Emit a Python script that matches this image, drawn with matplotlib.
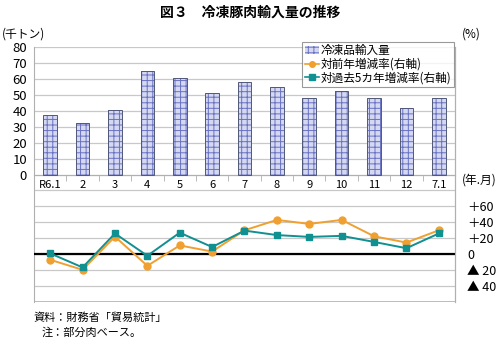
import matplotlib
matplotlib.use("Agg")
import matplotlib.pyplot as plt
import numpy as np
from matplotlib.patches import Patch
from matplotlib.lines import Line2D

plt.rcParams['font.family'] = ['Noto Sans CJK JP', 'DejaVu Sans']
plt.rcParams['hatch.linewidth'] = 0.7

months = ["R6.1", "2", "3", "4", "5", "6", "7", "8", "9", "10", "11", "12", "7.1"]
frozen_imports = [37.3, 32.0, 40.2, 64.9, 60.3, 51.3, 58.2, 54.9, 48.2, 52.4, 47.8, 41.9, 48.2]
yoy_change = [-7, -19.6, 22, -14.6, 11, 3.3, 30, 43, 38, 43, 22.5, 14.6, 30]
vs5yr_change = [1, -16.6, 26, -2, 27, 9, 29.6, 24, 21.7, 23, 15.4, 7.5, 26]

left_ticks = list(range(0, 81, 10))
right_ticks = [-40, -20, 0, 20, 40, 60]
right_labels = ["▲ 40", "▲ 20", "0", "＋20", "＋40", "＋60"]

bar_face = "#d4d8f0"
bar_hatch = "#6a72c4"
orange = "#f0a030"
teal = "#109090"
grid_c = "#c8c8c8"

fig = plt.figure(figsize=(5, 3.39), dpi=100)
ax = fig.add_axes([0.068, 0.1091, 0.842, 0.7523])
x = np.arange(len(months))

ax.set_xlim(-0.5, len(months) - 0.5)
ax.set_ylim(-80, 80)
ax.set_yticks(left_ticks)
ax.set_yticks(range(-70, 0, 10), minor=True)
ax.grid(axis='y', which='both', color=grid_c, lw=0.9, zorder=0)
ax.set_axisbelow(True)

ax.bar(x, frozen_imports, width=0.42, facecolor=bar_face, edgecolor=bar_hatch,
       hatch='+++', lw=0, zorder=2)
ax.bar(x, frozen_imports, width=0.42, facecolor='none', edgecolor='#505878',
       lw=0.7, zorder=3)

ax.spines['top'].set_visible(False)
ax.spines['bottom'].set_position(('data', 0))
for s in ['bottom', 'left', 'right']:
    ax.spines[s].set_color('#b0b0b0')
ax.axhline(-80, color='#b0b0b0', lw=1.2, zorder=1)

ax.set_xticks(x)
ax.set_xticklabels(months, fontsize=8)
ax.set_xticks(np.arange(-0.5, len(months), 1), minor=True)
ax.tick_params(axis='x', which='major', length=0, pad=4)
ax.tick_params(axis='x', which='minor', length=4, color='#b0b0b0', direction='out')
ax.tick_params(axis='y', which='both', length=0, labelsize=9.5, pad=5)

ax2 = ax.twinx()
ax2.set_ylim(-60, 260)
ax2.set_yticks(right_ticks)
ax2.set_yticklabels(right_labels, fontsize=9)
ax2.tick_params(axis='y', length=0, pad=9)
for s in ['top', 'left', 'bottom']:
    ax2.spines[s].set_visible(False)
ax2.spines['right'].set_color('#b0b0b0')
ax2.axhline(0, color='black', lw=1.6, zorder=2)

ax2.plot(x, yoy_change, color=orange, marker='o', ms=5, lw=1.4, zorder=4)
ax2.plot(x, vs5yr_change, color=teal, marker='s', ms=5, lw=1.4, zorder=5)

handles = [
    Patch(facecolor=bar_face, edgecolor=bar_hatch, hatch='+++', lw=0),
    Line2D([], [], color=orange, marker='o', ms=4, lw=1.2),
    Line2D([], [], color=teal, marker='s', ms=4, lw=1.2),
]
labels = ["冷凍品輸入量", "対前年増減率(右軸)", "対過去5カ年増減率(右軸)"]
leg = fig.legend(handles, labels, loc='upper right', bbox_to_anchor=(0.908, 0.877),
                 fontsize=8.4, frameon=True, fancybox=False, edgecolor='#808080',
                 handlelength=1.2, handletextpad=0.2, borderpad=0.2,
                 labelspacing=0.05, borderaxespad=0)
leg.get_frame().set_linewidth(0.8)
leg.set_zorder(10)

fig.text(0.5, 0.962, "図３　冷凍豚肉輸入量の推移", ha='center', va='center',
         fontsize=10, fontweight='bold')
fig.text(0.004, 0.9, "(千トン)", ha='left', va='center', fontsize=8.5)
fig.text(0.924, 0.9, "(%)", ha='left', va='center', fontsize=8.5)
fig.text(0.924, 0.47, "(年.月)", ha='left', va='center', fontsize=8.5)
fig.text(0.066, 0.062, "資料：財務省「貿易統計」", ha='left', va='center', fontsize=8)
fig.text(0.084, 0.018, "注：部分肉ベース。", ha='left', va='center', fontsize=8)

fig.savefig("out.png", dpi=100)
